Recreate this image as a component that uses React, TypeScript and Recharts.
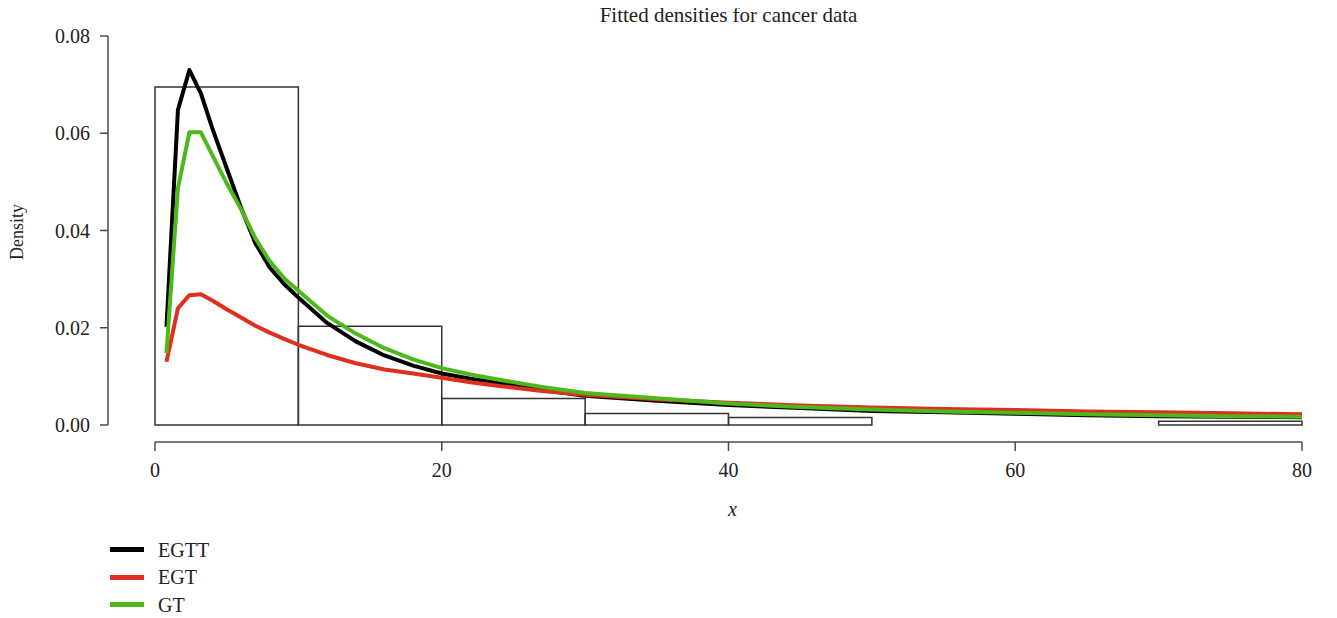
import React from 'react';
import { ComposedChart, Line, XAxis, YAxis, ReferenceArea, ReferenceLine } from 'recharts';

// Evaluation grid (x) and fitted densities
const xGrid = [0.8, 1.6, 2.4, 3.2, 4, 5, 6, 7, 8, 9, 10, 12, 14, 16, 18, 20, 22, 24, 27, 30, 35, 40, 45, 50, 55, 60, 65, 70, 75, 80];
const egttDensity = [0.0202, 0.0648, 0.0730, 0.0682, 0.0610, 0.0528, 0.0447, 0.0374, 0.0324, 0.0290, 0.0262, 0.0210, 0.0172, 0.0143, 0.0122, 0.0106, 0.0095, 0.0086, 0.0072, 0.0060, 0.0050, 0.0041, 0.0035, 0.0029, 0.0026, 0.0023, 0.0020, 0.0018, 0.0017, 0.0016];
const egtDensity = [0.0130, 0.0240, 0.0267, 0.0269, 0.0256, 0.0238, 0.0221, 0.0204, 0.0190, 0.0177, 0.0165, 0.0144, 0.0127, 0.0114, 0.0106, 0.0097, 0.0088, 0.0080, 0.0070, 0.0062, 0.0053, 0.0046, 0.0040, 0.0036, 0.0033, 0.0031, 0.0028, 0.0026, 0.0024, 0.0022];
const gtDensity = [0.0148, 0.0487, 0.0602, 0.0602, 0.0555, 0.0497, 0.0444, 0.0384, 0.0337, 0.0302, 0.0276, 0.0225, 0.0188, 0.0158, 0.0135, 0.0117, 0.0104, 0.0093, 0.0078, 0.0066, 0.0055, 0.0044, 0.0037, 0.0032, 0.0028, 0.0025, 0.0022, 0.0020, 0.0018, 0.0017];

// Histogram of cancer data (bin width 10)
const binStarts = [0, 10, 20, 30, 40, 50, 60, 70];
const binWidth = 10;
const binDensity = [0.0695, 0.0203, 0.00547, 0.00234, 0.00156, 0, 0, 0.00078];

const xTicks = [0, 20, 40, 60, 80];
const yTicks = [0, 0.02, 0.04, 0.06, 0.08];
const yTickLabels = ['0.00', '0.02', '0.04', '0.06', '0.08'];

const seriesNames = ['EGTT', 'EGT', 'GT'];
const seriesColors = ['#000000', '#df2f1f', '#4cb81b'];

const data = xGrid.map((x, i) => ({ x, EGTT: egttDensity[i], EGT: egtDensity[i], GT: gtDensity[i] }));

const FONT = '"Liberation Serif", "Times New Roman", serif';
const X_DOMAIN: [number, number] = [-3.278, 81.883];
const Y_DOMAIN: [number, number] = [-0.003496, 0.08329];
const AXIS_COLOR = '#4a4a4a';
const CHART_W = 1321;
const CHART_H = 610;

const renderXLabel = (props: any) => {
  const vb = props.viewBox || {};
  return (
    <text x={vb.x + vb.width / 2 + 14} y={vb.y + 74} textAnchor="middle" fontFamily={FONT} fontSize={20} fontStyle="italic" fill="#222">
      x
    </text>
  );
};

const renderYLabel = (props: any) => {
  const vb = props.viewBox || {};
  const cx = 14.5;
  const cy = vb.y + vb.height / 2 + 1;
  return (
    <text x={cx} y={cy} transform={`rotate(-90, ${cx}, ${cy})`} textAnchor="middle" fontFamily={FONT} fontSize={18} fill="#222">
      Density
    </text>
  );
};

export default function App() {
  return (
    <div style={{ position: 'relative', width: CHART_W, height: CHART_H }}>
      <div
        style={{
          position: 'absolute',
          left: 100,
          width: 1241,
          top: -5,
          textAlign: 'center',
          fontFamily: FONT,
          fontSize: 21,
          lineHeight: '24px',
          color: '#222',
          zIndex: 2,
        }}
      >
        Fitted densities for cancer data
      </div>
      <div style={{ position: 'absolute', left: 102, top: 528, fontFamily: FONT, zIndex: 2 }}>
        {seriesNames.map((name, i) => (
          <div key={name} style={{ display: 'flex', alignItems: 'center', height: 27.5 }}>
            <div style={{ width: 34, height: 5, background: seriesColors[i], marginRight: 14 }} />
            <span style={{ fontSize: 20, color: '#222', lineHeight: '20px' }}>{name}</span>
          </div>
        ))}
      </div>
      <ComposedChart width={CHART_W} height={CHART_H} data={data} margin={{ top: 12, right: 0, bottom: 0, left: 0 }}>
        <XAxis
          dataKey="x"
          type="number"
          domain={X_DOMAIN}
          allowDataOverflow
          ticks={xTicks}
          interval={0}
          height={CHART_H - 434}
          axisLine={false}
          tickLine={{ stroke: AXIS_COLOR, strokeWidth: 1.5 }}
          tickSize={9}
          tickMargin={12}
          tick={{ fontFamily: FONT, fontSize: 20, fill: '#222' }}
          label={{ content: renderXLabel }}
        />
        <YAxis
          type="number"
          domain={Y_DOMAIN}
          allowDataOverflow
          ticks={yTicks}
          interval={0}
          width={100}
          axisLine={false}
          tickLine={{ stroke: AXIS_COLOR, strokeWidth: 1.5 }}
          tickSize={8}
          tickMargin={10}
          tickFormatter={(v: number) => yTickLabels[yTicks.indexOf(v)] ?? String(v)}
          tick={{ fontFamily: FONT, fontSize: 20, fill: '#222' }}
          label={{ content: renderYLabel }}
        />
        {binStarts.map((start, i) => (
          <ReferenceArea
            key={start}
            x1={start}
            x2={start + binWidth}
            y1={0}
            y2={binDensity[i]}
            fill="none"
            fillOpacity={0}
            stroke="#333"
            strokeWidth={1.5}
            strokeOpacity={1}
            ifOverflow="visible"
          />
        ))}
        <ReferenceLine
          segment={[{ x: xTicks[0], y: Y_DOMAIN[0] }, { x: xTicks[xTicks.length - 1], y: Y_DOMAIN[0] }]}
          stroke={AXIS_COLOR}
          strokeWidth={1.5}
          ifOverflow="visible"
        />
        <ReferenceLine
          segment={[{ x: X_DOMAIN[0], y: yTicks[0] }, { x: X_DOMAIN[0], y: yTicks[yTicks.length - 1] }]}
          stroke={AXIS_COLOR}
          strokeWidth={1.5}
          ifOverflow="visible"
        />
        {seriesNames.map((name, i) => (
          <Line
            key={name}
            dataKey={name}
            name={name}
            type="linear"
            stroke={seriesColors[i]}
            strokeWidth={4}
            strokeLinejoin="round"
            dot={false}
            activeDot={false}
            isAnimationActive={false}
          />
        ))}
      </ComposedChart>
    </div>
  );
}
